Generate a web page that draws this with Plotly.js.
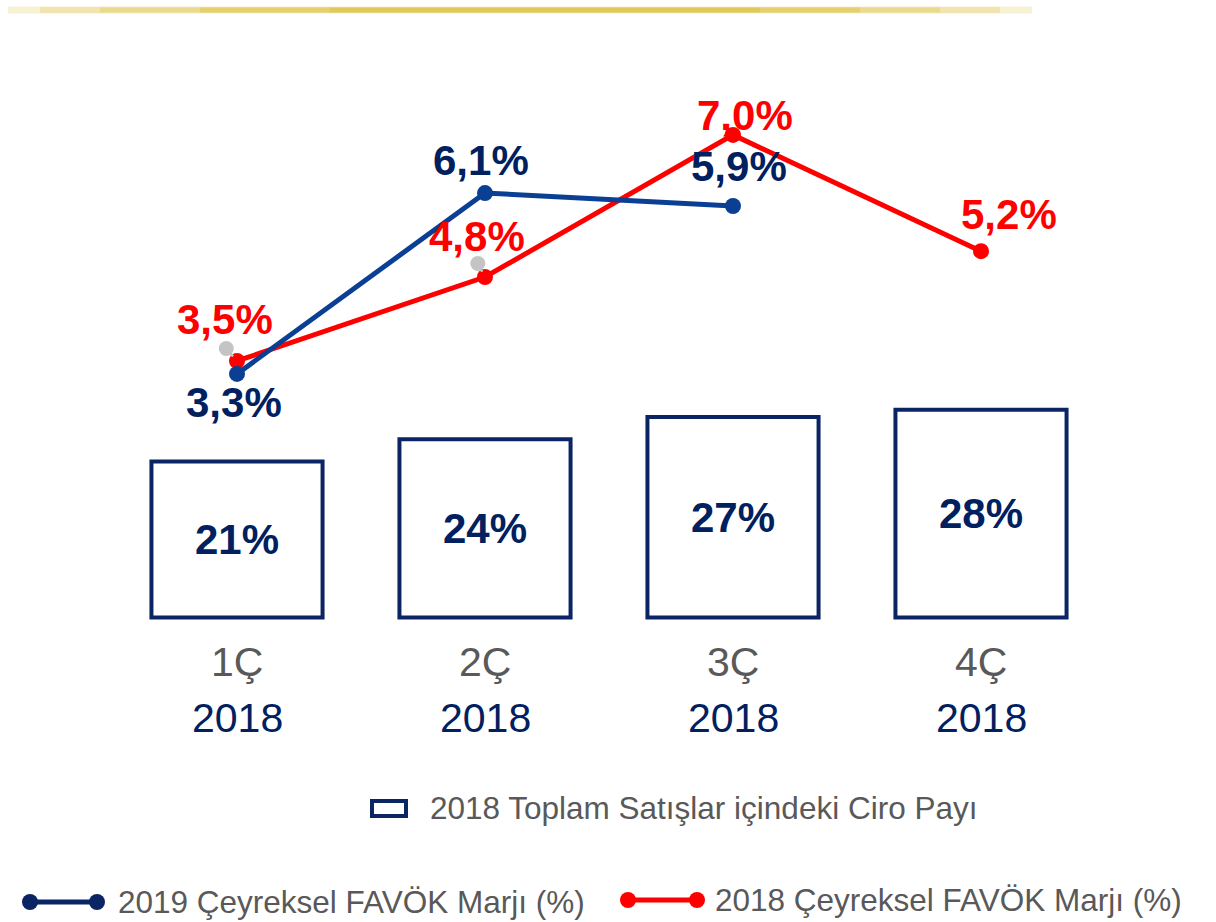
<!DOCTYPE html>
<html>
<head>
<meta charset="utf-8">
<script src="https://cdn.plot.ly/plotly-3.0.1.min.js"></script>
<style>
  html, body { margin: 0; padding: 0; background: #fff; }
  #chart { width: 1216px; height: 922px; }
</style>
</head>
<body>
<div id="chart"></div>
<script>
const quarters = ['1Ç', '2Ç', '3Ç', '4Ç'];
const years = ['2018', '2018', '2018', '2018'];
const ciroShare = [21, 24, 27, 28];
const margin2019 = [3.3, 6.1, 5.9, null];
const margin2018 = [3.5, 4.8, 7.0, 5.2];
const labels2019 = ['3,3%', '6,1%', '5,9%', ''];
const labels2018 = ['3,5%', '4,8%', '7,0%', '5,2%'];

const NAVY = '#0b2463';
const TEXT_NAVY = '#002060';
const BLUE = '#0a3f94';
const RED = '#ff0000';
const GREY = '#595959';
const FONT = 'Arial, "Liberation Sans", sans-serif';

// plot box in pixels, used to place the hand-made legend
const L = 113, R = 1105, T = 60, B = 620;
const px = (x) => (x - L) / (R - L);
const py = (y) => (B - y) / (B - T);

const cats = quarters.map((q, i) => i);

const bars = {
  type: 'bar',
  x: cats,
  y: ciroShare,
  width: 0.69,
  marker: { color: '#ffffff', line: { color: NAVY, width: 4 } },
  text: ciroShare.map(v => v + '%'),
  textposition: 'inside',
  insidetextanchor: 'middle',
  insidetextfont: { family: FONT, size: 42, color: TEXT_NAVY, weight: 'bold' },
  hoverinfo: 'skip',
  showlegend: false
};

const line2018 = {
  type: 'scatter',
  mode: 'lines+markers',
  x: cats,
  y: margin2018,
  yaxis: 'y2',
  line: { color: RED, width: 5 },
  marker: { color: RED, size: 16 },
  showlegend: false
};

const line2019 = {
  type: 'scatter',
  mode: 'lines+markers',
  x: cats,
  y: margin2019,
  yaxis: 'y2',
  line: { color: BLUE, width: 5 },
  marker: { color: BLUE, size: 16 },
  showlegend: false
};

// label offsets relative to each point (pixels)
const off2019 = [[-3, -29], [-4, 33], [6, 39]];
const off2018 = [[-12, 41], [-8, 41], [12, 19], [28, 37]];

const annotations = [];
// small grey leader stubs left over from the label placement
[[-12, -14], [-8, -15]].forEach((o, i) => {
  annotations.push({
    x: i, y: margin2018[i], xref: 'x', yref: 'y2', text: '', showarrow: true,
    ax: o[0], ay: o[1], arrowside: 'start', startarrowhead: 6, startarrowsize: 1.5,
    arrowwidth: 2.5, arrowcolor: '#c4c4c4', standoff: 6, startstandoff: 0
  });
});
labels2019.forEach((t, i) => {
  if (!t) return;
  annotations.push({
    x: i, y: margin2019[i], xref: 'x', yref: 'y2', text: t, showarrow: false,
    xshift: off2019[i][0], yshift: off2019[i][1],
    font: { family: FONT, size: 42, color: TEXT_NAVY, weight: 'bold' }
  });
});
labels2018.forEach((t, i) => {
  annotations.push({
    x: i, y: margin2018[i], xref: 'x', yref: 'y2', text: t, showarrow: false,
    xshift: off2018[i][0], yshift: off2018[i][1],
    font: { family: FONT, size: 42, color: RED, weight: 'bold' }
  });
});
quarters.forEach((q, i) => {
  annotations.push({
    x: i, y: py(662), xref: 'x', yref: 'paper', text: q, showarrow: false,
    yanchor: 'middle', font: { family: FONT, size: 41, color: GREY }
  });
  annotations.push({
    x: i, y: py(718), xref: 'x', yref: 'paper', text: years[i], showarrow: false,
    yanchor: 'middle', font: { family: FONT, size: 41, color: TEXT_NAVY }
  });
});

// legend texts
const legendFont = { family: FONT, size: 31.5, color: GREY };
annotations.push({
  x: px(428), y: py(808), xref: 'paper', yref: 'paper', xanchor: 'left', yanchor: 'middle',
  text: '2018 Toplam Satışlar içindeki Ciro Payı', showarrow: false, font: legendFont
});
annotations.push({
  x: px(116), y: py(902), xref: 'paper', yref: 'paper', xanchor: 'left', yanchor: 'middle',
  text: '2019 Çeyreksel FAVÖK Marjı (%)', showarrow: false, font: legendFont
});
annotations.push({
  x: px(713), y: py(900), xref: 'paper', yref: 'paper', xanchor: 'left', yanchor: 'middle',
  text: '2018 Çeyreksel FAVÖK Marjı (%)', showarrow: false, font: legendFont
});

const dot = (cx, cy, r, color) => ({
  type: 'circle', xref: 'paper', yref: 'paper',
  x0: px(cx - r), x1: px(cx + r), y0: py(cy + r), y1: py(cy - r),
  fillcolor: color, line: { width: 0 }
});

const goldSeg = (x0, x1, alpha, w) => ({
  type: 'line', xref: 'paper', yref: 'paper', x0: px(x0), x1: px(x1), y0: py(10), y1: py(10),
  line: { color: `rgba(214,186,40,${alpha})`, width: w }
});

const shapes = [
  // gold rule at the top, fading at both ends
  goldSeg(8, 1032, 0.2, 7),
  goldSeg(40, 1000, 0.2, 6),
  goldSeg(100, 940, 0.25, 5),
  goldSeg(200, 860, 0.3, 5),
  goldSeg(330, 760, 0.3, 5),
  // legend: box icon
  { type: 'rect', xref: 'paper', yref: 'paper', x0: px(372), x1: px(406), y0: py(816), y1: py(801),
    fillcolor: '#ffffff', line: { color: NAVY, width: 4 } },
  // legend: 2019 line icon
  { type: 'line', xref: 'paper', yref: 'paper', x0: px(30), x1: px(97), y0: py(902), y1: py(902),
    line: { color: NAVY, width: 5 } },
  dot(30, 902, 8, NAVY),
  dot(97, 902, 8, NAVY),
  // legend: 2018 line icon
  { type: 'line', xref: 'paper', yref: 'paper', x0: px(628), x1: px(697), y0: py(900), y1: py(900),
    line: { color: RED, width: 5 } },
  dot(628, 900, 8, RED),
  dot(697, 900, 8, RED)
];

const layout = {
  width: 1216,
  height: 922,
  margin: { l: L, r: 1216 - R, t: T, b: 922 - B },
  paper_bgcolor: '#ffffff',
  plot_bgcolor: '#ffffff',
  font: { family: FONT },
  xaxis: { range: [-0.5, 3.5], showticklabels: false, showgrid: false, zeroline: false, showline: false, ticks: '' },
  yaxis: { range: [-0.35, 75.12], visible: false, showgrid: false, zeroline: false },
  yaxis2: { range: [-0.51, 8.16], overlaying: 'y', visible: false, showgrid: false, zeroline: false },
  annotations: annotations,
  shapes: shapes,
  showlegend: false
};

Plotly.newPlot('chart', [bars, line2018, line2019], layout, { displayModeBar: false, staticPlot: true });
</script>
</body>
</html>
